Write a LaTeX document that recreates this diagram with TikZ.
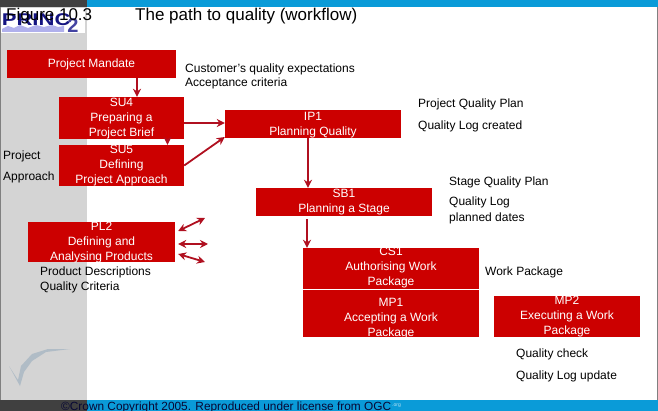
\documentclass[tikz,border=0pt]{standalone}
\usepackage{fontspec}
\setmainfont{Liberation Sans}
\definecolor{boxred}{RGB}{204,0,0}
\definecolor{flowred}{RGB}{176,16,32}
\definecolor{barblue}{RGB}{10,155,216}
\definecolor{bardark}{RGB}{64,64,64}
\definecolor{bandgrey}{RGB}{212,212,212}
\definecolor{logonavy}{RGB}{20,20,130}
\definecolor{logolilac}{RGB}{176,176,236}
\definecolor{tickgrey}{RGB}{176,188,198}
\usetikzlibrary{arrows.meta}
\tikzset{
  stagebox/.style={fill=boxred,inner sep=0pt},
  stagetext/.style={text=white,align=center,inner sep=0pt,font=\fontsize{12}{15}\selectfont},
  note/.style={anchor=west,inner sep=0pt,font=\fontsize{12}{14.5}\selectfont},
  flow/.style={flowred,line width=1.8pt,-{Stealth[length=8pt,width=8pt]}},
  twoway/.style={flowred,line width=1.8pt,{Stealth[length=8pt,width=8pt]}-{Stealth[length=8pt,width=8pt]}}
}

\begin{document}
\begin{tikzpicture}[x=1pt,y=-1pt]
  \useasboundingbox (0,0) rectangle (658,411);
  % frame of the slide
  \fill[barblue] (0,0) rectangle (658,7);
  \fill[barblue] (0,400) rectangle (658,411);
  \fill[bandgrey] (0,7) rectangle (87,400);
  \fill[bardark] (0,0) rectangle (87,7);
  \fill[bardark] (0,400) rectangle (87,411);
  \fill[gray] (0,7) rectangle (1,400);
  \fill[gray] (657,7) rectangle (658,400);
  % logo
  \fill[white] (1,8) rectangle (85,33);
  \fill[logolilac] (2,32)--(2,29)--(8,26)--(14,28)--(20,25)--(28,28)--(36,25)--(44,27)--(52,25)--(58,27)--(64,26)--(64,32)--cycle;
  \node[inner sep=0pt,anchor=west,text=logonavy,font=\bfseries\fontsize{17}{17}\selectfont,transform shape,xscale=1.3] (logo) at (1.5,20) {PRINC};
  \node[inner sep=0pt,text=logonavy!70!logolilac,font=\bfseries\fontsize{20}{20}\selectfont] (logotwo) at (73,26) {2};
  % tick
  \fill[tickgrey] (9,366)--(18,380)--(21,366)--(32,354)--(48,349)--(70,349)--(46,352)--(32,361)--(24,372)--(20,386)--cycle;
  % titles
  \node[note,font=\fontsize{17}{18}\selectfont] (fig) at (6,16) {Figure 10.3};
  \node[note,font=\fontsize{17}{18}\selectfont] (title) at (135,16) {The path to quality (workflow)};
  % boxes
  \node[stagebox,minimum width=169pt,minimum height=28pt] (pm) at (91.5,64) {};
  \node[stagetext] (pmt) at (91.5,64) {Project Mandate};
  \node[stagebox,minimum width=125pt,minimum height=42pt] (su4) at (121.5,118) {};
  \node[stagetext] (su4t) at (121.5,119) {SU4\\Preparing a\\Project Brief};
  \node[stagebox,minimum width=125pt,minimum height=41pt] (su5) at (121.5,165.5) {};
  \node[stagetext] (su5t) at (121.5,166) {SU5\\Defining\\Project Approach};
  \node[stagebox,minimum width=147pt,minimum height=40pt] (pl2) at (101.5,242) {};
  \node[stagetext] (pl2t) at (101.5,243) {PL2\\Defining and\\Analysing Products};
  \node[stagebox,minimum width=176pt,minimum height=28pt] (ip1) at (313,124) {};
  \node[stagetext] (ip1t) at (313,125) {IP1\\Planning Quality};
  \node[stagebox,minimum width=176pt,minimum height=28pt] (sb1) at (344,202) {};
  \node[stagetext] (sb1t) at (344,202.5) {SB1\\Planning a Stage};
  \node[stagebox,minimum width=176pt,minimum height=41pt] (cs1) at (391,268.5) {};
  \node[stagetext] (cs1t) at (391,268) {CS1\\Authorising Work\\Package};
  \node[stagebox,minimum width=176pt,minimum height=47pt] (mp1) at (391,313.5) {};
  \node[stagetext] (mp1t) at (391,319) {MP1\\Accepting a Work\\Package};
  \node[stagebox,minimum width=146pt,minimum height=41pt] (mp2) at (567,316.5) {};
  \node[stagetext] (mp2t) at (567,317) {MP2\\Executing a Work\\Package};
  % notes
  \node[note] (expect) at (185,69.5) {Customer's quality expectations};
  \node[note] (accept) at (185,83.5) {Acceptance criteria};
  \node[note] (pqp) at (418,104.5) {Project Quality Plan};
  \node[note] (qlc) at (418,126.5) {Quality Log created};
  \node[note] (sqp) at (449,182.5) {Stage Quality Plan};
  \node[note] (qlog) at (449,202.5) {Quality Log};
  \node[note] (dates) at (449,218.5) {planned dates};
  \node[note] (wp) at (485,272.5) {Work Package};
  \node[note] (qc) at (516,354.5) {Quality check};
  \node[note] (qlu) at (516,376.5) {Quality Log update};
  \node[note] (pd) at (40,272.5) {Product Descriptions};
  \node[note] (qcr) at (40,287.5) {Quality Criteria};
  \node[note] (prj) at (3,156.5) {Project};
  \node[note] (app) at (3,177.5) {Approach};
  \node[note,text=logonavy!40!black,font=\fontsize{11.85}{14}\selectfont] (crown) at (61,407.5) {©Crown Copyright 2005. Reproduced under license from OGC};
  \node[note,text=white!70!barblue,font=\fontsize{5}{6}\selectfont] (org) at (392,406) {.org};
  % connectors
  \coordinate (a1) at (205,218);
  \coordinate (a2) at (208,244);
  \coordinate (a3) at (205,262);
  \draw[flow] (pm.south -| 137,0) -- (su4.north -| 137,0);
  \draw[flow] ([yshift=-5pt]su4.east) -- ([yshift=-5pt]su4.east -| ip1.west);
  \draw[flow] (su5.east) -- ([yshift=-13pt]ip1.west);
  \draw[flow] ([xshift=46pt]su4.south) -- ([xshift=46pt]su5.north);
  \draw[flow] (ip1.south -| 308,0) -- (sb1.north -| 308,0);
  \draw[flow] ([yshift=-3pt]sb1.south -| 307,0) -- (cs1.north -| 307,0);
  \draw[twoway] ([xshift=3pt,yshift=11pt]pl2.east) -- (a1);
  \draw[twoway] ([xshift=3pt,yshift=-2pt]pl2.east) -- (a2);
  \draw[twoway] ([xshift=3pt,yshift=-12pt]pl2.east) -- (a3);
\end{tikzpicture}
\end{document}
